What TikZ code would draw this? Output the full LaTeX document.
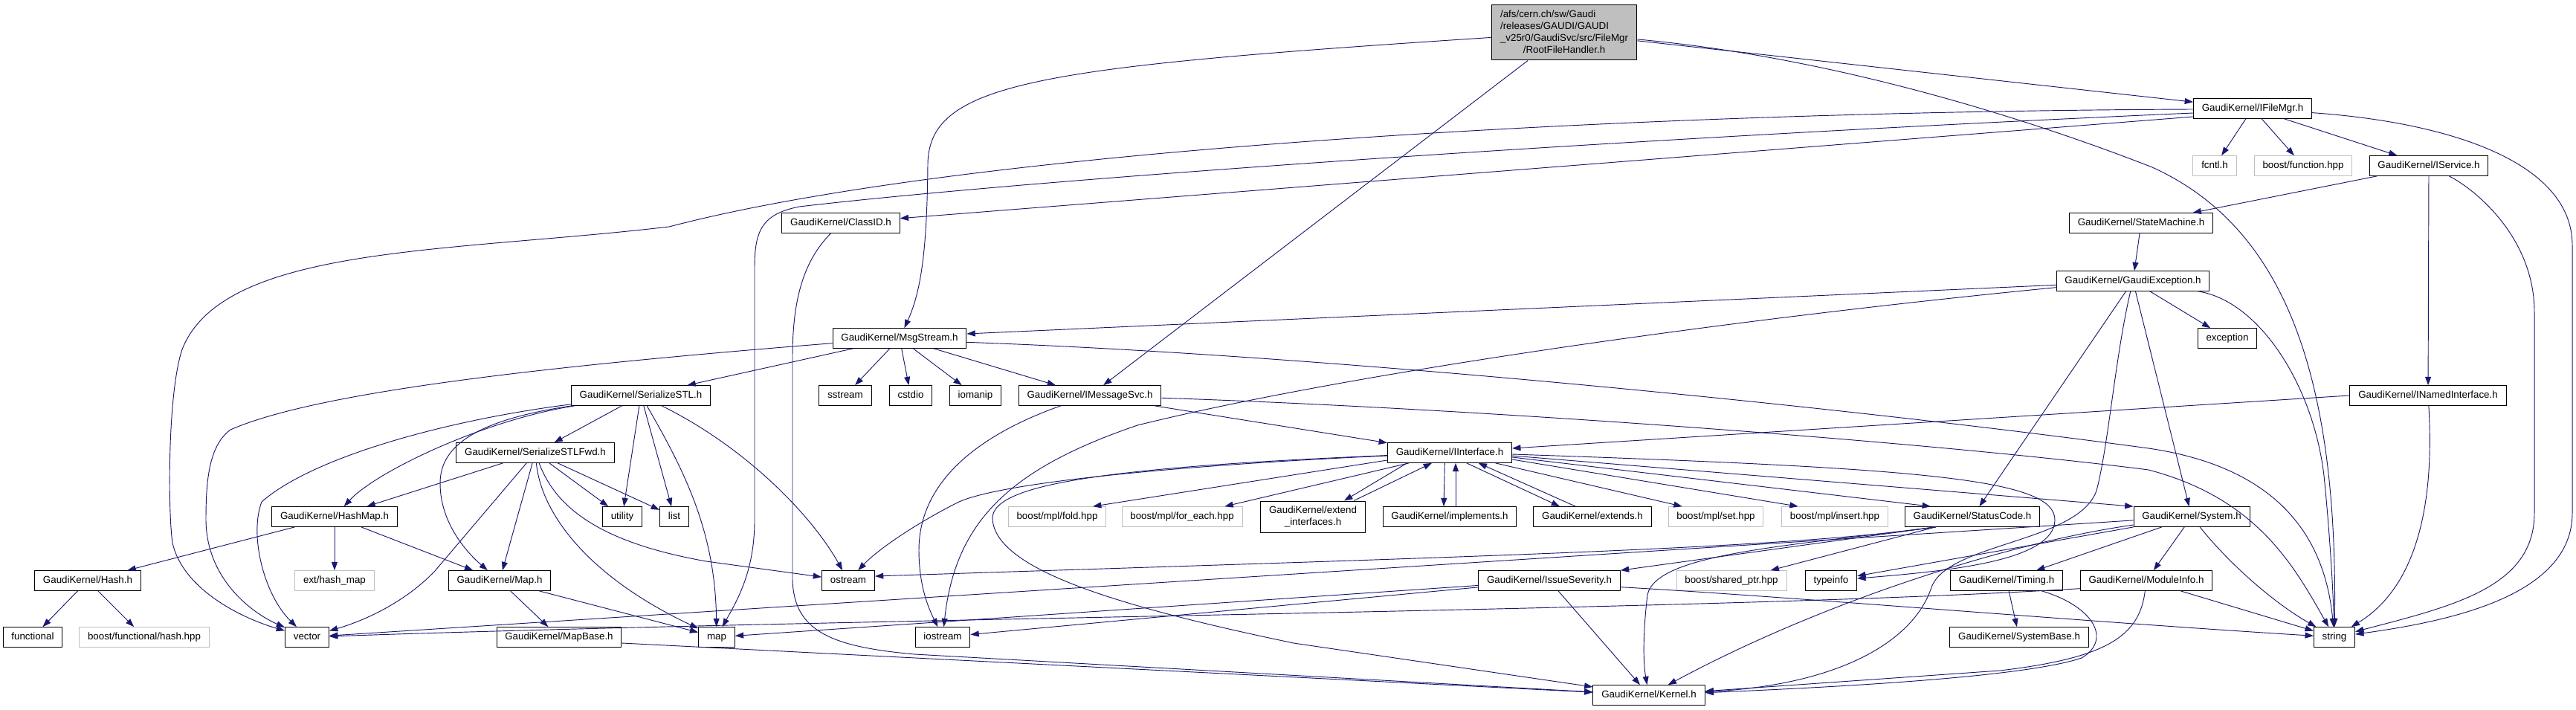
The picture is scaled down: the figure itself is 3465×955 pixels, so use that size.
\documentclass[tikz,border=0pt]{standalone}
\usepackage{fontspec}
\setmainfont{Liberation Sans}
\usetikzlibrary{arrows.meta}
\definecolor{edgeblue}{HTML}{191970}
\definecolor{extgray}{HTML}{BFBFBF}
\tikzset{
	filebox/.style={draw=black, line width=0.75pt, inner xsep=8.5pt, inner ysep=0pt, minimum height=20pt, font=\fontsize{10}{12}\selectfont},
	hdr/.style={filebox, text height=7.2pt, text depth=2.1pt},
	ext/.style={hdr, draw=extgray},
	inc/.style={draw=edgeblue, line width=0.7pt, -{Triangle[length=8.5pt, width=6pt]}}
}
\begin{document}
\begin{tikzpicture}[x=0.75pt, y=-0.75pt]
			\useasboundingbox	(0, 0) rectangle (3465, 955);

			\node	(root)			at	(2104, 44)	[filebox, fill=extgray, minimum height=55.5pt, inner xsep=9pt]	{\begin{tabular}{@{}l@{}}/afs/cern.ch/sw/Gaudi\\/releases/GAUDI/GAUDI\\\_v25r0/GaudiSvc/src/FileMgr\\\multicolumn{1}{@{}c@{}}{/RootFileHandler.h}\end{tabular}};
			\node	(ifilemgr)		at	(3030, 146)	[hdr]	{GaudiKernel/IFileMgr.h};
			\node	(fcntl)			at	(2979, 223)	[ext]	{fcntl.h};
			\node	(boostfunc)		at	(3098, 223)	[ext]	{boost/function.hpp};
			\node	(iservice)		at	(3267, 223)	[hdr]	{GaudiKernel/IService.h};
			\node	(classid)		at	(1131, 300)	[hdr]	{GaudiKernel/ClassID.h};
			\node	(statemach)		at	(2880, 300)	[hdr]	{GaudiKernel/StateMachine.h};
			\node	(gaudiexc)		at	(2869, 378)	[hdr]	{GaudiKernel/GaudiException.h};
			\node	(msgstream)		at	(1210, 455)	[hdr]	{GaudiKernel/MsgStream.h};
			\node	(exception)		at	(2996, 455)	[hdr]	{exception};
			\node	(serstl)		at	(862, 532)	[hdr]	{GaudiKernel/SerializeSTL.h};
			\node	(sstream)		at	(1137, 532)	[hdr]	{sstream};
			\node	(cstdio)		at	(1225, 532)	[hdr]	{cstdio};
			\node	(iomanip)		at	(1312, 532)	[hdr]	{iomanip};
			\node	(imsgsvc)		at	(1466, 532)	[hdr]	{GaudiKernel/IMessageSvc.h};
			\node	(inamed)		at	(3266, 532)	[hdr]	{GaudiKernel/INamedInterface.h};
			\node	(serstlfwd)		at	(720, 609)	[hdr]	{GaudiKernel/SerializeSTLFwd.h};
			\node	(iinterface)	at	(1950, 609)	[hdr]	{GaudiKernel/IInterface.h};
			\node	(hashmap)		at	(450, 695)	[hdr]	{GaudiKernel/HashMap.h};
			\node	(utility)		at	(837, 695)	[hdr]	{utility};
			\node	(list)			at	(907, 695)	[hdr]	{list};
			\node	(fold)			at	(1422, 695)	[ext]	{boost/mpl/fold.hpp};
			\node	(foreach)		at	(1590, 695)	[ext]	{boost/mpl/for\_each.hpp};
			\node	(extendif)		at	(1766, 695)	[filebox, align=center, minimum height=31.5pt]	{GaudiKernel/extend\\\_interfaces.h};
			\node	(implements)	at	(1950, 695)	[hdr]	{GaudiKernel/implements.h};
			\node	(extends)		at	(2142, 695)	[hdr]	{GaudiKernel/extends.h};
			\node	(mplset)		at	(2308, 695)	[ext]	{boost/mpl/set.hpp};
			\node	(mplinsert)		at	(2468, 695)	[ext]	{boost/mpl/insert.hpp};
			\node	(statuscode)	at	(2653, 695)	[hdr]	{GaudiKernel/StatusCode.h};
			\node	(system)		at	(2948, 695)	[hdr]	{GaudiKernel/System.h};
			\node	(hash)			at	(118, 781)	[hdr]	{GaudiKernel/Hash.h};
			\node	(exthashmap)	at	(450, 781)	[ext]	{ext/hash\_map};
			\node	(gkmap)			at	(672, 781)	[hdr]	{GaudiKernel/Map.h};
			\node	(ostream)		at	(1141, 781)	[hdr]	{ostream};
			\node	(issuesev)		at	(2084, 781)	[hdr]	{GaudiKernel/IssueSeverity.h};
			\node	(sharedptr)		at	(2329, 781)	[ext]	{boost/shared\_ptr.hpp};
			\node	(typeinfo)		at	(2463, 781)	[hdr]	{typeinfo};
			\node	(timing)		at	(2699, 781)	[hdr]	{GaudiKernel/Timing.h};
			\node	(moduleinfo)	at	(2887, 781)	[hdr]	{GaudiKernel/ModuleInfo.h};
			\node	(functional)	at	(44, 857)	[hdr]	{functional};
			\node	(boosthash)		at	(194, 857)	[ext]	{boost/functional/hash.hpp};
			\node	(vector)		at	(413, 857)	[hdr]	{vector};
			\node	(mapbase)		at	(752, 857)	[hdr]	{GaudiKernel/MapBase.h};
			\node	(stdmap)		at	(964, 857)	[hdr]	{map};
			\node	(iostream)		at	(1268, 857)	[hdr]	{iostream};
			\node	(systembase)	at	(2716, 857)	[hdr]	{GaudiKernel/SystemBase.h};
			\node	(string)		at	(3140, 857)	[hdr]	{string};
			\node	(kernel)		at	(2218, 935)	[hdr]	{GaudiKernel/Kernel.h};

			\draw	[inc]	(root) -- (ifilemgr);
			\draw	[inc]	(root) .. controls (1400, 90) and (1250, 110) .. (1248, 220) .. controls (1247, 330) and (1240, 390) .. (msgstream);
			\draw	[inc]	(root) -- (imsgsvc);
			\draw	[inc]	(root) .. controls (2500, 80) and (2780, 180) .. (2895, 225) .. controls (3060, 300) and (3145, 480) .. (string);

			\draw	[inc]	(ifilemgr) -- (fcntl);
			\draw	[inc]	(ifilemgr) -- (boostfunc);
			\draw	[inc]	(ifilemgr) -- (iservice);
			\draw	[inc]	(ifilemgr) .. controls (3300, 165) and (3460, 220) .. (3460, 330) -- (3460, 690) .. controls (3460, 800) and (3300, 835) .. (string);
			\draw	[inc]	([yshift=-0.75pt]ifilemgr.west) .. controls (2200, 150) and (1300, 200) .. (900, 305) .. controls (600, 340) and (300, 330) .. (245, 470) .. controls (225, 530) and (226, 690) .. (232, 730) .. controls (245, 790) and (320, 830) .. (vector);
			\draw	[inc]	([yshift=-4.5pt]ifilemgr.west) .. controls (2200, 185) and (1400, 240) .. (1075, 278) .. controls (1025, 288) and (1015, 310) .. (1015, 360) -- (1015, 700) .. controls (1015, 770) and (990, 810) .. (stdmap);
			\draw	[inc]	([yshift=-8.25pt]ifilemgr.west) -- (classid);

			\draw	[inc]	(iservice) -- (statemach);
			\draw	[inc]	(iservice) -- (inamed);
			\draw	[inc]	(iservice) .. controls (3330, 255) and (3409, 320) .. (3409, 420) -- (3409, 690) .. controls (3409, 790) and (3300, 815) .. (string);

			\draw	[inc]	(inamed.west) -- ([yshift=4.5pt]iinterface.east);
			\draw	[inc]	(inamed) .. controls (3275, 680) and (3250, 790) .. (string);

			\draw	[inc]	(statemach) -- (gaudiexc);

			\draw	[inc]	([yshift=-4pt]gaudiexc.west) -- ([yshift=4.5pt]msgstream.east);
			\draw	[inc]	([yshift=-6.5pt]gaudiexc.west) .. controls (2300, 432) and (1800, 505) .. (1530, 572) .. controls (1360, 630) and (1285, 700) .. (iostream);
			\draw	[inc]	(gaudiexc) -- (exception);
			\draw	[inc]	(gaudiexc) .. controls (3040, 405) and (3112, 520) .. (3126, 640) .. controls (3134, 720) and (3138, 790) .. (string);
			\draw	[inc]	(gaudiexc) -- (statuscode);
			\draw	[inc]	(gaudiexc) -- (system);
			\draw	[inc]	(gaudiexc) .. controls (2845, 480) and (2836, 600) .. (2820, 660) .. controls (2795, 730) and (2620, 730) .. (2598, 790) .. controls (2575, 860) and (2480, 920) .. (kernel);

			\draw	[inc]	(msgstream) -- (serstl);
			\draw	[inc]	(msgstream) -- (sstream);
			\draw	[inc]	(msgstream) -- (cstdio);
			\draw	[inc]	(msgstream) -- (iomanip);
			\draw	[inc]	(msgstream) -- (imsgsvc);
			\draw	[inc]	([yshift=-4pt]msgstream.east) .. controls (1800, 478) and (2500, 550) .. (2890, 603) .. controls (3040, 625) and (3125, 700) .. (string);
			\draw	[inc]	([yshift=-5pt]msgstream.west) .. controls (700, 495) and (420, 530) .. (310, 578) .. controls (280, 600) and (277, 650) .. (277, 700) .. controls (278, 780) and (340, 825) .. (vector);

			\draw	[inc]	(serstl) -- (serstlfwd);
			\draw	[inc]	(serstl) -- (utility);
			\draw	[inc]	(serstl) -- (list);
			\draw	[inc]	(serstl) .. controls (925, 640) and (962, 720) .. (stdmap);
			\draw	[inc]	(serstl) .. controls (1000, 600) and (1090, 690) .. (ostream);
			\draw	[inc]	(serstl) .. controls (650, 565) and (505, 635) .. (hashmap);
			\draw	[inc]	(serstl) .. controls (640, 565) and (592, 600) .. (592, 650) .. controls (592, 705) and (630, 745) .. (gkmap);
			\draw	[inc]	(serstl) .. controls (600, 565) and (420, 615) .. (352, 675) .. controls (335, 720) and (355, 800) .. (vector);

			\draw	[inc]	(serstlfwd) -- (utility);
			\draw	[inc]	(serstlfwd) -- (list);
			\draw	[inc]	(serstlfwd) .. controls (750, 690) and (820, 732) .. (950, 755) -- (ostream);
			\draw	[inc]	(serstlfwd) .. controls (728, 690) and (790, 775) .. (stdmap);
			\draw	[inc]	(serstlfwd) -- (gkmap);
			\draw	[inc]	(serstlfwd) -- (hashmap);
			\draw	[inc]	(serstlfwd) -- (585, 768) .. controls (545, 810) and (490, 835) .. (vector);

			\draw	[inc]	(hashmap) -- (hash);
			\draw	[inc]	(hashmap) -- (exthashmap);
			\draw	[inc]	(hashmap) -- (gkmap);
			\draw	[inc]	(hash) -- (functional);
			\draw	[inc]	(hash) -- (boosthash);
			\draw	[inc]	(gkmap) -- (mapbase);
			\draw	[inc]	(gkmap) -- (stdmap);
			\draw	[inc]	([yshift=-6pt]mapbase.east) -- (kernel);

			\draw	[inc]	(classid) .. controls (1082, 350) and (1066, 400) .. (1066, 480) -- (1066, 780) .. controls (1068, 850) and (1120, 870) .. (1230, 880) -- (kernel);

			\draw	[inc]	(imsgsvc) .. controls (1330, 580) and (1236, 640) .. (1236, 740) .. controls (1236, 790) and (1250, 820) .. (iostream);
			\draw	[inc]	(imsgsvc) -- (iinterface);
			\draw	[inc]	(imsgsvc) .. controls (2000, 550) and (2600, 595) .. (2890, 632) .. controls (3035, 670) and (3085, 760) .. (string);

			\draw	[inc]	([xshift=-43pt]iinterface.south) -- ([xshift=31.5pt]extendif.north);
			\draw	[inc]	([xshift=41.25pt]extendif.north) -- ([xshift=-18pt]iinterface.south);
			\draw	[inc]	([xshift=-5pt]iinterface.south) -- ([xshift=-6pt]implements.north);
			\draw	[inc]	([xshift=6pt]implements.north) -- ([xshift=6pt]iinterface.south);
			\draw	[inc]	([xshift=17pt]iinterface.south) -- ([xshift=-33pt]extends.north);
			\draw	[inc]	([xshift=-17pt]extends.north) -- ([xshift=29pt]iinterface.south);
			\draw	[inc]	([xshift=46pt]iinterface.south) -- ([xshift=-34pt]mplset.north);
			\draw	[inc]	([yshift=-6.75pt]iinterface.east) -- ([xshift=-37pt]mplinsert.north);
			\draw	[inc]	([yshift=-4.5pt]iinterface.east) -- ([xshift=-42pt]statuscode.north);
			\draw	[inc]	([yshift=-3pt]iinterface.east) -- (system.north west);
			\draw	[inc]	([yshift=-1.5pt]iinterface.east) .. controls (2600, 630) and (2765, 645) .. (2764, 700) .. controls (2762, 755) and (2620, 768) .. (typeinfo);
			\draw	[inc]	([yshift=-3pt]iinterface.west) .. controls (1600, 625) and (1350, 648) .. (1290, 675) .. controls (1230, 705) and (1180, 740) .. (ostream);
			\draw	[inc]	([yshift=-7.5pt]iinterface.west) -- ([xshift=36pt]fold.north);
			\draw	[inc]	([xshift=-41pt]iinterface.south) -- ([xshift=43pt]foreach.north);
			\draw	[inc]	(iinterface) .. controls (1500, 628) and (1335, 650) .. (1335, 697) .. controls (1337, 765) and (1500, 815) .. (1740, 865) -- (kernel);

			\draw	[inc]	([xshift=-37pt]statuscode.south) -- (issuesev.north east);
			\draw	[inc]	([xshift=-37pt]statuscode.south) .. controls (2400, 738) and (2000, 748) .. ([yshift=4.5pt]ostream.east);
			\draw	[inc]	([xshift=-37pt]statuscode.south) -- (sharedptr);
			\draw	[inc]	([xshift=-37pt]statuscode.south) .. controls (2400, 735) and (2228, 745) .. (2216, 800) .. controls (2210, 850) and (2210, 890) .. (kernel);

			\draw	[inc]	(issuesev) -- (kernel);
			\draw	[inc]	(issuesev) -- (stdmap);
			\draw	[inc]	(issuesev) -- (iostream);
			\draw	[inc]	([yshift=-6.5pt]issuesev.east) .. controls (2400, 802) and (2800, 836) .. (string);

			\draw	[inc]	(system) -- (moduleinfo);
			\draw	[inc]	(system) -- (timing);
			\draw	[inc]	(system) .. controls (3000, 760) and (3060, 812) .. (string);
			\draw	[inc]	(system) .. controls (2700, 730) and (2450, 810) .. (kernel);
			\draw	[inc]	(system) -- (typeinfo);
			\draw	[inc]	(system) -- (vector);

			\draw	[inc]	(timing) -- (systembase);
			\draw	[inc]	(timing) .. controls (2815, 815) and (2842, 860) .. (2800, 885) .. controls (2720, 912) and (2450, 925) .. (kernel);

			\draw	[inc]	(moduleinfo) .. controls (2878, 855) and (2835, 885) .. (2690, 902) -- (kernel);
			\draw	[inc]	(moduleinfo) -- (string);
			\draw	[inc]	([yshift=-8pt]moduleinfo.west) .. controls (2300, 822) and (1200, 830) .. (vector);
		\end{tikzpicture}
\end{document}
